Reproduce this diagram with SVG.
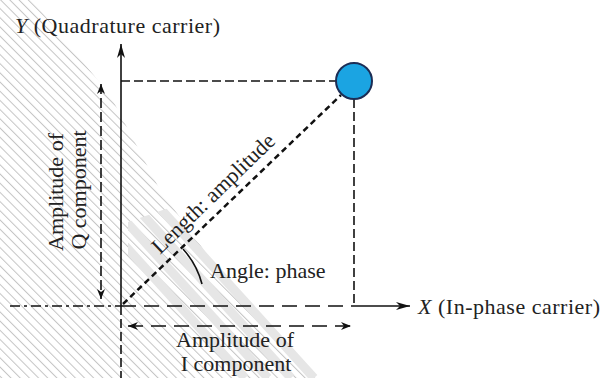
<svg xmlns="http://www.w3.org/2000/svg" width="602" height="378" viewBox="0 0 602 378">
  <style>
    .t { font-family: "Liberation Serif", "Times New Roman", serif; font-size: 22px; fill: #222; }
    .ax { stroke: #111; stroke-width: 1.6; fill: none; }
    .guide { stroke: #111; stroke-width: 1.6; fill: none; stroke-dasharray: 9 4; }
    .dim { stroke: #111; stroke-width: 1.6; fill: none; }
    .band { stroke: #e6e6e6; stroke-width: 9; }
  </style>
  <defs>
    <marker id="arrow" viewBox="0 0 14 8" refX="14" refY="4" markerWidth="14" markerHeight="8" markerUnits="userSpaceOnUse" orient="auto-start-reverse">
      <path d="M0,0 L14,4 L0,8 L4,4 z" fill="#111"/>
    </marker>
    <marker id="small" viewBox="0 0 10 8" refX="10" refY="4" markerWidth="10" markerHeight="8" markerUnits="userSpaceOnUse" orient="auto-start-reverse">
      <path d="M0,0 L10,4 L0,8 L3,4 z" fill="#111"/>
    </marker>
    <pattern id="hatch" width="6.5" height="6.5" patternUnits="userSpaceOnUse" patternTransform="rotate(-45)">
      <rect x="0" y="0" width="1" height="6.5" fill="#c4c4c4"/>
    </pattern>
    <clipPath id="hatchClip">
      <polygon points="0,0 32,0 110,95 160,190 215,265 320,378 0,378"/>
    </clipPath>
    <clipPath id="bandClip">
      <polygon points="128,222 215,192 340,378 200,378 128,300"/>
    </clipPath>
  </defs>

  <rect width="602" height="378" fill="#ffffff"/>

  <g id="watermark">
    <rect width="602" height="378" fill="url(#hatch)" clip-path="url(#hatchClip)"/>
    <g clip-path="url(#bandClip)">
      <line class="band" x1="70" y1="185" x2="245" y2="378"/>
      <line class="band" x1="93" y1="185" x2="268" y2="378"/>
      <line class="band" x1="116" y1="185" x2="291" y2="378"/>
      <line class="band" x1="139" y1="185" x2="314" y2="378"/>
    </g>
  </g>

  <g id="connectors">
    <!-- Y axis -->
    <line class="ax" x1="121" y1="306" x2="121" y2="44" marker-end="url(#arrow)"/>
    <line class="ax" x1="121" y1="306" x2="121" y2="378" stroke-dasharray="9 4"/>
    <!-- X axis -->
    <line class="ax" x1="10" y1="306" x2="121" y2="306" stroke-dasharray="10 4 3 4"/>
    <line class="ax" x1="121" y1="306" x2="354" y2="306" stroke-dasharray="15 8"/>
    <line class="ax" x1="354" y1="306" x2="410" y2="306" marker-end="url(#arrow)"/>
    <!-- guides to the point -->
    <line class="guide" x1="121" y1="81" x2="336" y2="81"/>
    <line class="guide" x1="354" y1="99" x2="354" y2="306"/>
    <!-- amplitude vector -->
    <line x1="123" y1="304" x2="341" y2="95" stroke="#111" stroke-width="2.5" stroke-dasharray="6 4"/>
    <!-- Q amplitude dimension -->
    <line class="dim" x1="101" y1="84" x2="101" y2="299" stroke-dasharray="10 4" marker-start="url(#small)" marker-end="url(#small)"/>
    <!-- I amplitude dimension -->
    <line class="dim" x1="128" y1="326" x2="351" y2="326" stroke-dasharray="15 8" marker-start="url(#small)" marker-end="url(#small)"/>
    <!-- phase angle arc -->
    <path class="ax" d="M183,249 A84,84 0 0 1 202,284"/>
  </g>

  <g id="point">
    <circle cx="354" cy="81" r="18" fill="#1ba4e2" stroke="#1c2d55" stroke-width="2"/>
  </g>

  <g id="label-y-axis">
    <text class="t" x="15" y="33" textLength="205" lengthAdjust="spacing"><tspan font-style="italic">Y</tspan> (Quadrature carrier)</text>
  </g>
  <g id="label-x-axis">
    <text class="t" x="418" y="314" textLength="182" lengthAdjust="spacing"><tspan font-style="italic">X</tspan> (In-phase carrier)</text>
  </g>
  <g id="label-length">
    <text class="t" x="160" y="255" transform="rotate(-44 160 255)">Length: amplitude</text>
  </g>
  <g id="label-angle">
    <text class="t" x="210" y="278">Angle: phase</text>
  </g>
  <g id="label-q">
    <text class="t" text-anchor="middle" transform="translate(63 192) rotate(-90)">Amplitude of</text>
    <text class="t" text-anchor="middle" transform="translate(86 190) rotate(-90)">Q component</text>
  </g>
  <g id="label-i">
    <text class="t" x="235" y="347" text-anchor="middle">Amplitude of</text>
    <text class="t" x="236" y="371" text-anchor="middle">I component</text>
  </g>
</svg>
